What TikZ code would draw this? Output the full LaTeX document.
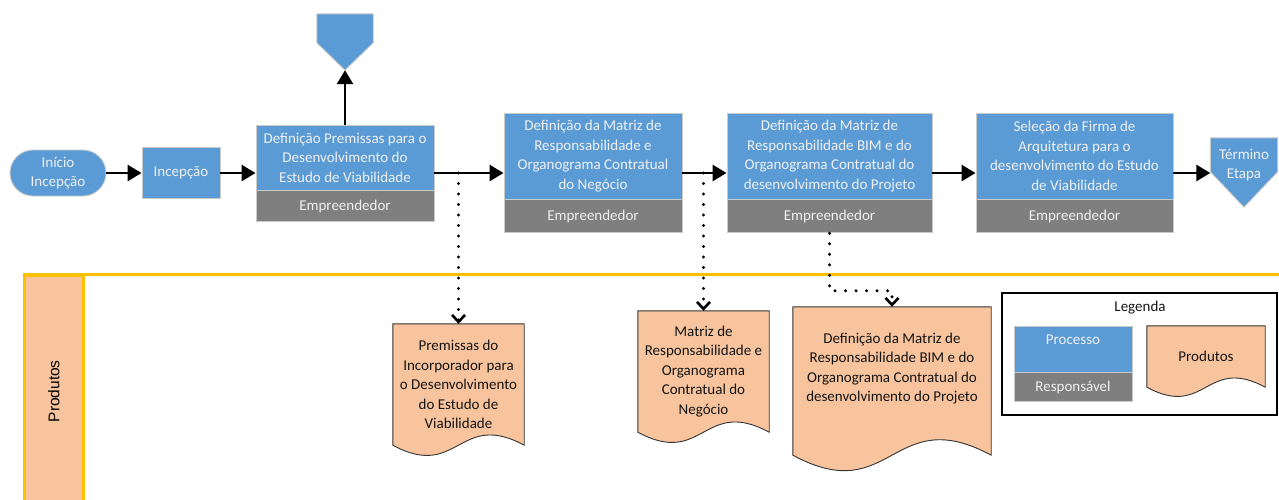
\documentclass[tikz,border=0pt]{standalone}
\usepackage{fontspec}
\setmainfont{Carlito}
\newfontfamily\lanefont{Liberation Sans}
\usetikzlibrary{arrows.meta,positioning,calc,backgrounds}
\definecolor{procblue}{HTML}{5B9BD5}
\definecolor{respgray}{HTML}{7F7F7F}
\definecolor{prodpeach}{HTML}{F8C49E}
\definecolor{lanegold}{HTML}{FFC000}
\definecolor{boxedge}{HTML}{CACACA}

\begin{document}
\begin{tikzpicture}[
  x=1pt, y=-1pt,
  font=\fontsize{15}{19.5}\selectfont,
  proc/.style={fill=procblue, draw=boxedge, line width=0.9pt, text=white!94!black,
    align=center, inner sep=0pt},
  resp/.style={proc, fill=respgray},
  prod/.style={align=center, inner sep=0pt, text=black!92},
  prodshape/.style={fill=prodpeach, draw=black!80, line width=0.9pt},
  flow/.style={-{Triangle[length=14pt,width=16pt]}, line width=2.8pt},
  feed/.style={-{Straight Barb[length=7pt,width=13pt,line width=2.6pt]}, line width=3.3pt,
    dash pattern=on 0pt off 10.5pt, line cap=round},
  lane/.style={fill=prodpeach, draw=lanegold, line width=2.6pt}
]
\useasboundingbox (0,0) rectangle (1279,499);
\clip (0,0) rectangle (1279,499);

% process line
\node[proc, minimum width=96pt, minimum height=46pt, rounded corners=23pt] (start) at (58,173) {Início\\Incepção};
\node[proc, minimum width=78pt, minimum height=51pt] (incep) at (181,172.5) {Incepção};
\node[proc, minimum width=178pt, minimum height=65pt] (p1) at (345,157.5)
  {Definição Premissas para o\\Desenvolvimento do\\Estudo de Viabilidade};
\node[resp, minimum width=178pt, minimum height=31pt, below=0pt of p1] (r1) {Empreendedor};
\node[proc, minimum width=178pt, minimum height=86pt] (p2) at (593,156)
  {Definição da Matriz de\\Responsabilidade e\\Organograma Contratual\\do Negócio};
\node[resp, minimum width=178pt, minimum height=33pt, below=0pt of p2] (r2) {Empreendedor};
\node[proc, minimum width=205pt, minimum height=86pt] (p3) at (829.5,156)
  {Definição da Matriz de\\Responsabilidade BIM e do\\Organograma Contratual do\\desenvolvimento do Projeto};
\node[resp, minimum width=205pt, minimum height=33pt, below=0pt of p3] (r3) {Empreendedor};
\node[proc, minimum width=197pt, minimum height=86pt] (p4) at (1074.5,156)
  {Seleção da Firma de\\Arquitetura para o\\desenvolvimento do Estudo\\de Viabilidade};
\node[resp, minimum width=197pt, minimum height=33pt, below=0pt of p4] (r4) {Empreendedor};
\node[prod, text=white!94!black, minimum width=67pt, minimum height=54pt] (finish) at (1244,165) {Término\\Etapa};
\node[minimum width=56pt, minimum height=56pt, inner sep=0pt] (offpage) at (345,42) {};

% products lane
\draw[lanegold, line width=2.6pt] (23,274.5) -- (1279,274.5);
\node[lane, minimum width=59pt, minimum height=232pt, anchor=north west] (lanehead) at (23,274)
  {\rotatebox{90}{\lanefont\fontsize{15.5}{18}\selectfont Produtos}};

\node[prod, minimum width=131pt, minimum height=121pt] (d1) at (458.5,384.5)
  {Premissas do\\Incorporador para\\o Desenvolvimento\\do Estudo de\\Viabilidade};
\node[prod, minimum width=131pt, minimum height=121pt] (d2) at (703.5,371.5)
  {Matriz de\\Responsabilidade e\\Organograma\\Contratual do\\Negócio};
\node[prod, minimum width=198pt, minimum height=148pt] (d3) at (892,381)
  {Definição da Matriz de\\Responsabilidade BIM e do\\Organograma Contratual do\\desenvolvimento do Projeto\\[8pt]};

% legend
\node[draw=black, line width=2.6pt, minimum width=275pt, minimum height=122pt] (legend) at (1139.5,354) {};
\node[prod] (legendtitle) at (1140,308) {Legenda};
\node[proc, minimum width=118pt, minimum height=46pt] (lgproc) at (1073,349) {Processo\\~};
\node[resp, minimum width=118pt, minimum height=29pt, below=0pt of lgproc] (lgresp) {Responsável};
\node[prod, minimum width=118pt, minimum height=61pt] (lgprod) at (1206,356.5) {Produtos};

\begin{scope}[on background layer]
  \foreach \d in {d1,d2,d3,lgprod}
    \path[prodshape] let \p1=(\d.south west), \p2=(\d.south east), \n1={0.27*(\x2-\x1)} in
      (\d.north west) -- (\d.north east) -- (\d.south east)
      .. controls ([yshift=\n1]\d.south) and ([yshift=-\n1]\d.south) .. (\d.south west) -- cycle;
  \path[proc] (finish.north west) -- (finish.north east) -- ([yshift=-34pt]finish.north east)
    -- ([yshift=-15pt]finish.south) -- ([yshift=-34pt]finish.north west) -- cycle;
  \path[proc] (offpage.north west) -- (offpage.north east) -- ([yshift=-29pt]offpage.north east)
    -- (offpage.south) -- ([yshift=-29pt]offpage.north west) -- cycle;
\end{scope}

\draw[flow] (start) -- (incep.west |- start);
\draw[flow] (incep.east |- start) -- (p1.west |- start);
\draw[flow] (p1.north) -- (offpage.south);
\draw[flow] (p1.east |- start) -- (p2.west |- start);
\draw[flow] (p2.east |- start) -- (p3.west |- start);
\draw[flow] (p3.east |- start) -- (p4.west |- start);
\draw[flow] (p4.east |- start) -- (finish.west |- start);

\draw[feed] (d1.north |- start) -- (d1.north);
\draw[feed] (d2.north |- start) -- (d2.north);
\draw[feed] (r3.south) |- ([yshift=16pt]d3.north) -- (d3.north);
\end{tikzpicture}
\end{document}
